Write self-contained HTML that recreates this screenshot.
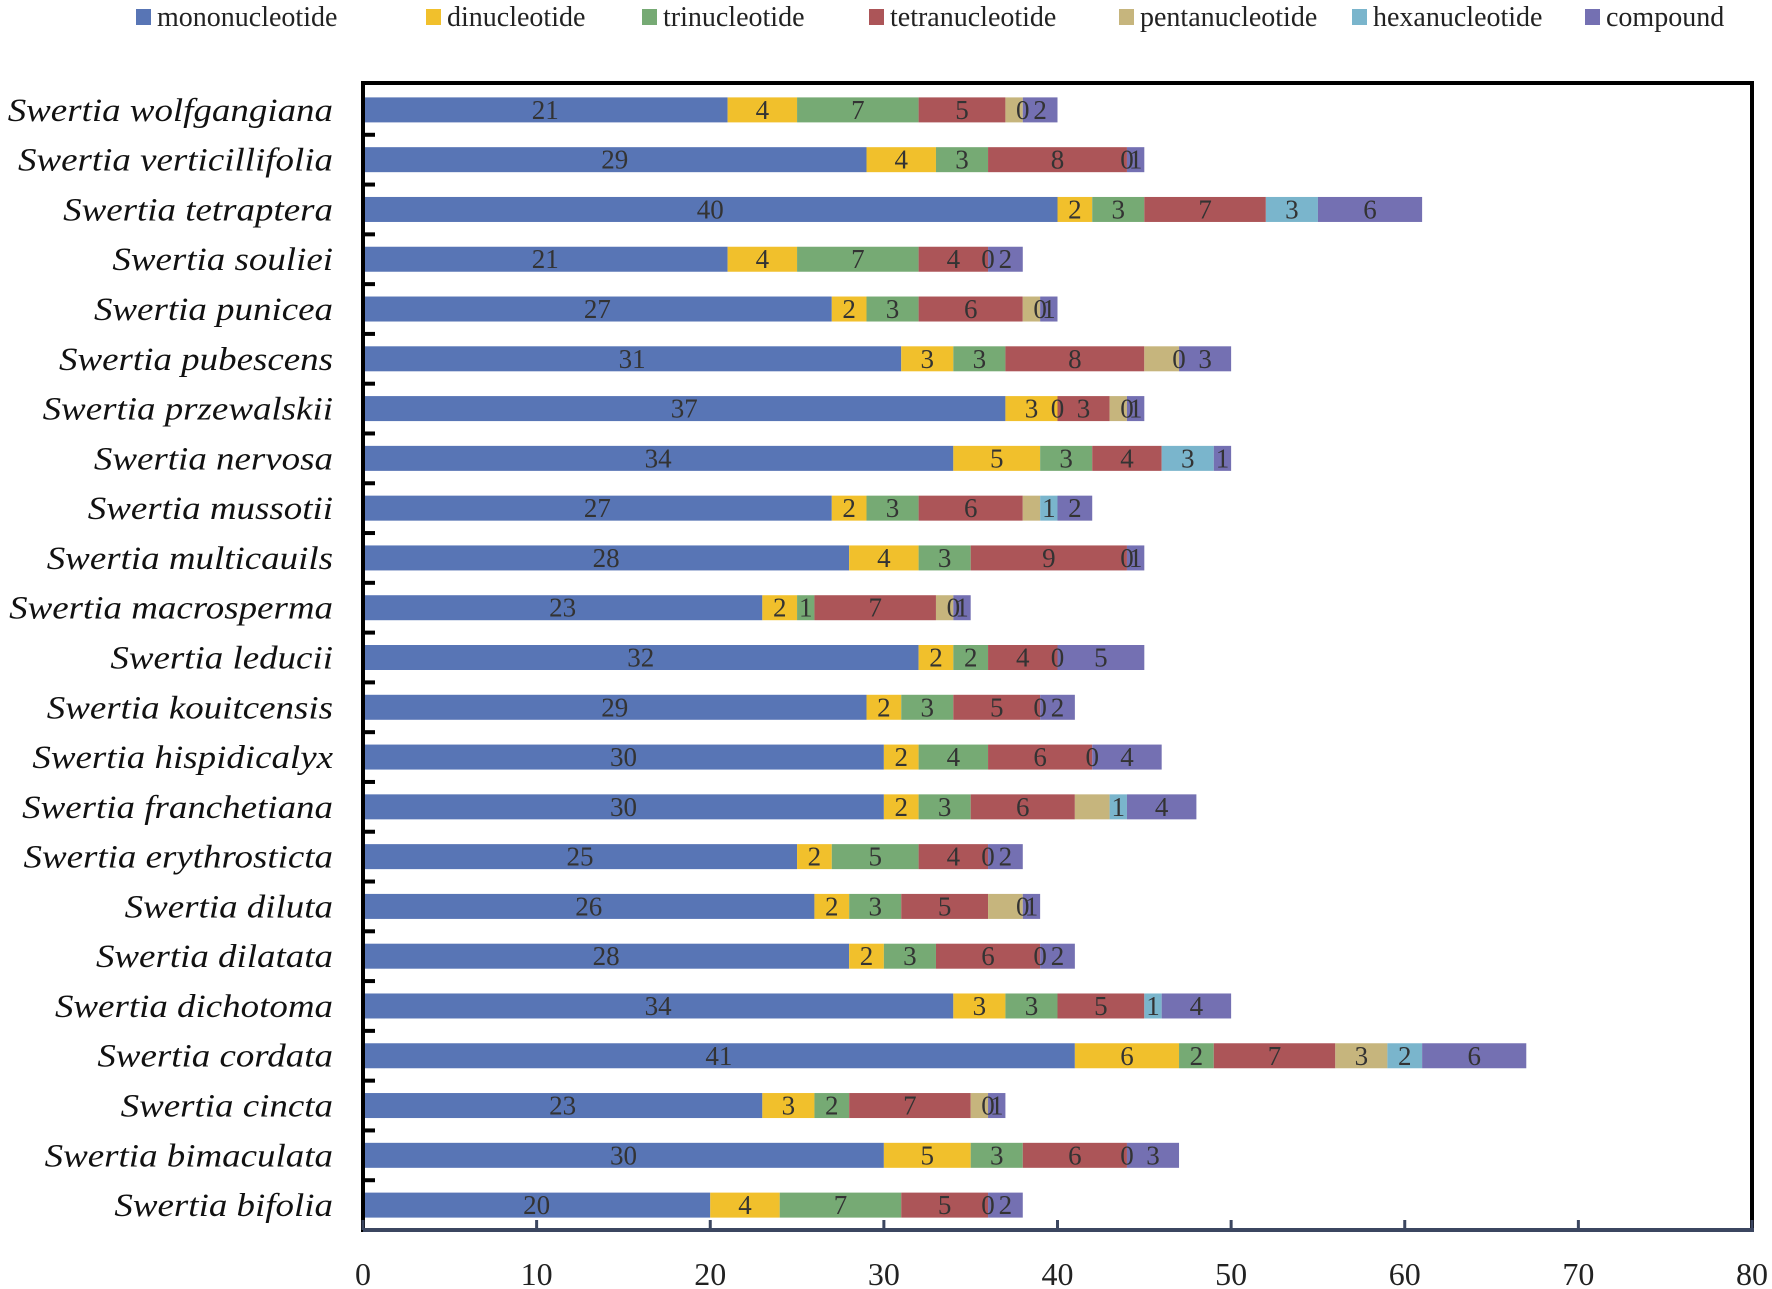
<!DOCTYPE html>
<html><head><meta charset="utf-8"><style>
html,body{margin:0;padding:0;background:#fff;}
svg{display:block;font-family:"Liberation Serif",serif;}
</style></head><body>
<svg id="chart" width="1772" height="1289" viewBox="0 0 1772 1289" xmlns="http://www.w3.org/2000/svg"></svg>
<script>
const species = ["Swertia wolfgangiana","Swertia verticillifolia","Swertia tetraptera","Swertia souliei","Swertia punicea","Swertia pubescens","Swertia przewalskii","Swertia nervosa","Swertia mussotii","Swertia multicauils","Swertia macrosperma","Swertia leducii","Swertia kouitcensis","Swertia hispidicalyx","Swertia franchetiana","Swertia erythrosticta","Swertia diluta","Swertia dilatata","Swertia dichotoma","Swertia cordata","Swertia cincta","Swertia bimaculata","Swertia bifolia"];
const seriesNames = ["mononucleotide","dinucleotide","trinucleotide","tetranucleotide","pentanucleotide","hexanucleotide","compound"];
const mono  = [21,29,40,21,27,31,37,34,27,28,23,32,29,30,30,25,26,28,34,41,23,30,20];
const di    = [4,4,2,4,2,3,3,5,2,4,2,2,2,2,2,2,2,2,3,6,3,5,4];
const tri   = [7,3,3,7,3,3,0,3,3,3,1,2,3,4,3,5,3,3,3,2,2,3,7];
const tetra = [5,8,7,4,6,8,3,4,6,9,7,4,5,6,6,4,5,6,5,7,7,6,5];
const penta = [1,0,0,0,1,2,1,0,1,0,1,0,0,0,2,0,2,0,0,3,1,0,0];
const hexa  = [0,0,3,0,0,0,0,3,1,0,0,0,0,0,1,0,0,0,1,2,0,0,0];
const comp  = [2,1,6,2,1,3,1,1,2,1,1,5,2,4,4,2,1,2,4,6,1,3,2];
const xTicks = [0,10,20,30,40,50,60,70,80];
const colors = ["#5875b5","#f1c02c","#76aa74","#ac5558","#c6b57d","#7ab5cc","#7470b2"];

const svg = document.getElementById('chart');
const NS = "http://www.w3.org/2000/svg";
const X0=363, X1=1752, YT=85, YB=1230;
const band=(YB-YT)/species.length, barH=25;
function xs(v){return X0+(v/80)*(X1-X0);}
function yc(i){return YT+band*(i+0.5);}
function mk(tag,attrs,parent){const e=document.createElementNS(NS,tag);for(const k in attrs)e.setAttribute(k,attrs[k]);(parent||svg).appendChild(e);return e;}

const legX=[136,426,642,869,1119,1352,1585];
seriesNames.forEach((n,k)=>{
  const g=mk('g',{});
  
  
  mk('rect',{x:legX[k],y:9,width:15,height:16,fill:colors[k]},g);
  const t=mk('text',{x:legX[k]+21,y:26,'font-size':28,fill:'#222'},g);
  t.textContent=n;
});

const data=[mono,di,tri,tetra,penta,hexa,comp];
const bars=mk('g',{});


const labels=mk('g',{});


species.forEach((sp,i)=>{
  let acc=0;
  const cy=yc(i);
  const lab=mk('text',{x:333/1.12,y:cy+11,'font-size':33,'font-style':'italic','text-anchor':'end',fill:'#111',transform:'scale(1.12,1)'});
  
  
  lab.textContent=sp;
  data.forEach((arr,k)=>{
    const v=arr[i];
    if(v>0){
      const r=mk('rect',{x:xs(acc),y:cy-barH/2,width:xs(acc+v)-xs(acc),height:barH,fill:colors[k]},bars);
      
      
    }
    const show = (k===4) ? v>=3 : true;
    if(show){
      const t=mk('text',{x:xs(acc+v/2),y:cy+9,'font-size':27,'text-anchor':'middle',fill:'#333'},labels);
      
      
      t.textContent=v;
    }
    acc+=v;
  });
});
svg.appendChild(labels);

const f1=mk('line',{x1:X0-2,y1:YT-2,x2:X1+2,y2:YT-2,stroke:'#000','stroke-width':4});

const f2=mk('line',{x1:X1,y1:YT-4,x2:X1,y2:YB,stroke:'#000','stroke-width':4});

const f3=mk('line',{x1:X0,y1:YT-4,x2:X0,y2:YB+2,stroke:'#000','stroke-width':4});

for(let i=1;i<species.length;i++){
  const tk=mk('line',{x1:X0,y1:YT+band*i,x2:X0+12,y2:YT+band*i,stroke:'#000','stroke-width':4});
  
}
const xa=mk('line',{x1:X0,y1:YB,x2:X1+2,y2:YB,stroke:'#3b4660','stroke-width':4});

xTicks.forEach(v=>{
  const tk=mk('line',{x1:xs(v),y1:YB,x2:xs(v),y2:YB-10,stroke:'#3b4660','stroke-width':3});
  
  const t=mk('text',{x:xs(v),y:1285,'font-size':32,'text-anchor':'middle',fill:'#222'});
  
  t.textContent=v;
});
</script>
</body></html>
